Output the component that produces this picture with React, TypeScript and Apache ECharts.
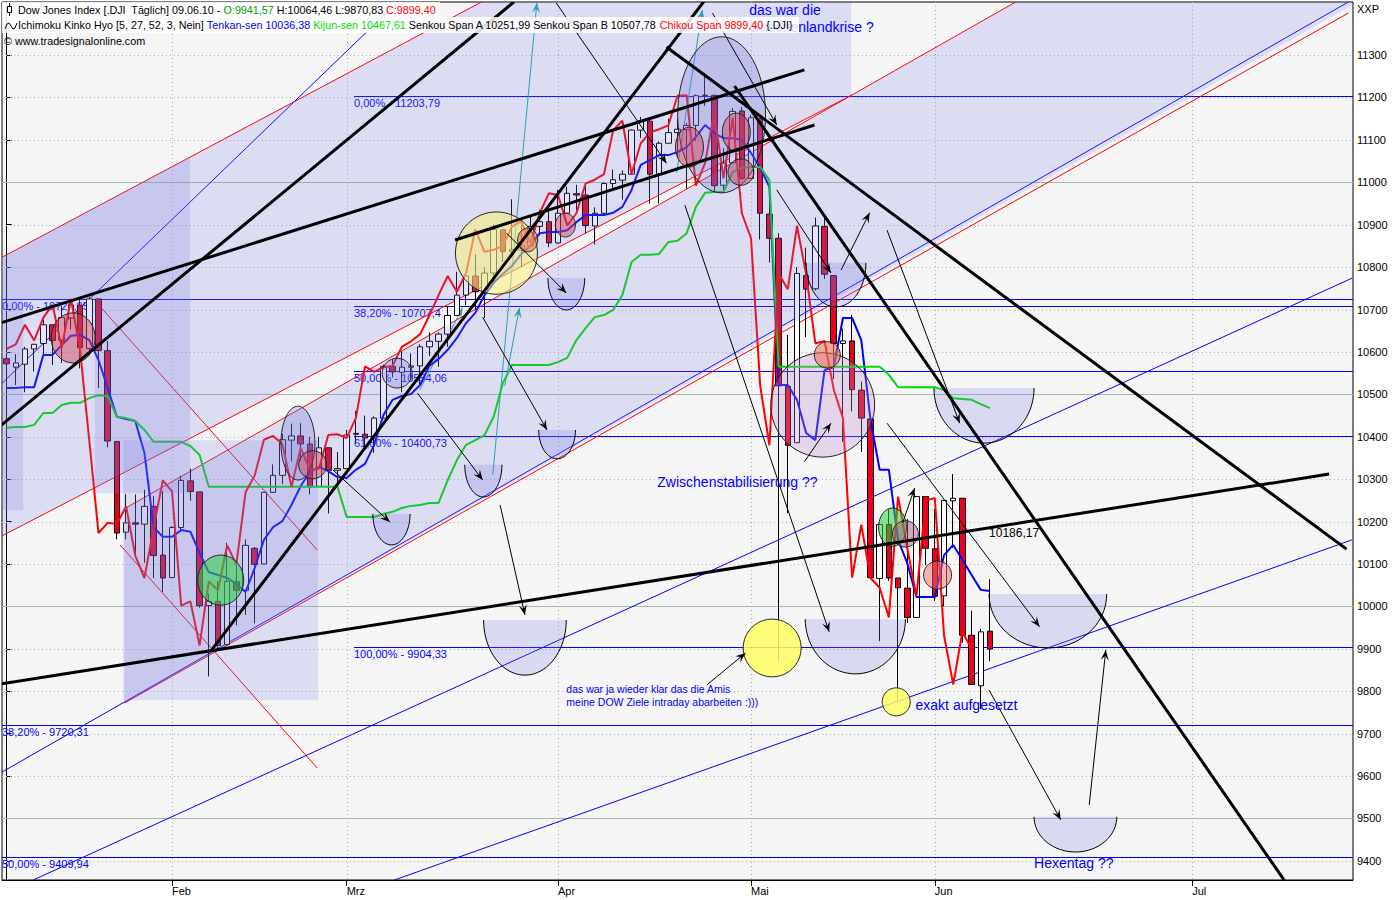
import React, { useEffect, useRef } from "react";
import * as echarts from "echarts";

type Pt = [number, number];

// Daily sessions of the Dow Jones Index: [date, open, close, low, high]
const CANDLES: [string, number, number, number, number][] = [
  ["2010-01-05", 10584, 10572, 10541, 10584],
  ["2010-01-06", 10564, 10574, 10522, 10595],
  ["2010-01-07", 10571, 10607, 10505, 10612],
  ["2010-01-08", 10607, 10618, 10554, 10619],
  ["2010-01-11", 10620, 10664, 10592, 10676],
  ["2010-01-12", 10664, 10627, 10569, 10664],
  ["2010-01-13", 10628, 10681, 10574, 10709],
  ["2010-01-14", 10680, 10711, 10653, 10723],
  ["2010-01-15", 10710, 10610, 10561, 10726],
  ["2010-01-19", 10608, 10725, 10594, 10730],
  ["2010-01-20", 10725, 10603, 10515, 10725],
  ["2010-01-21", 10603, 10390, 10375, 10626],
  ["2010-01-22", 10389, 10173, 10158, 10390],
  ["2010-01-25", 10175, 10197, 10158, 10265],
  ["2010-01-26", 10197, 10194, 10115, 10264],
  ["2010-01-27", 10194, 10236, 10103, 10275],
  ["2010-01-28", 10236, 10120, 10067, 10260],
  ["2010-01-29", 10121, 10067, 10034, 10272],
  ["2010-02-01", 10068, 10186, 10068, 10189],
  ["2010-02-02", 10186, 10297, 10179, 10308],
  ["2010-02-03", 10296, 10271, 10249, 10325],
  ["2010-02-04", 10270, 10002, 9997, 10270],
  ["2010-02-05", 10002, 10012, 9835, 10030],
  ["2010-02-08", 10012, 9908, 9902, 10060],
  ["2010-02-09", 9910, 10059, 9910, 10150],
  ["2010-02-10", 10058, 10038, 9955, 10100],
  ["2010-02-11", 10038, 10144, 9980, 10158],
  ["2010-02-12", 10137, 10099, 9960, 10140],
  ["2010-02-16", 10100, 10269, 10100, 10270],
  ["2010-02-17", 10269, 10309, 10268, 10335],
  ["2010-02-18", 10309, 10393, 10288, 10407],
  ["2010-02-19", 10392, 10402, 10342, 10431],
  ["2010-02-22", 10402, 10383, 10343, 10432],
  ["2010-02-23", 10383, 10282, 10264, 10400],
  ["2010-02-24", 10283, 10374, 10282, 10400],
  ["2010-02-25", 10374, 10321, 10219, 10374],
  ["2010-02-26", 10321, 10325, 10284, 10364],
  ["2010-03-01", 10325, 10404, 10325, 10416],
  ["2010-03-02", 10408, 10406, 10385, 10461],
  ["2010-03-03", 10406, 10397, 10370, 10450],
  ["2010-03-04", 10397, 10444, 10362, 10448],
  ["2010-03-05", 10444, 10566, 10444, 10570],
  ["2010-03-08", 10566, 10553, 10540, 10583],
  ["2010-03-09", 10552, 10564, 10505, 10601],
  ["2010-03-10", 10564, 10567, 10536, 10596],
  ["2010-03-11", 10567, 10612, 10520, 10618],
  ["2010-03-12", 10612, 10625, 10590, 10646],
  ["2010-03-15", 10625, 10642, 10565, 10646],
  ["2010-03-16", 10642, 10686, 10612, 10708],
  ["2010-03-17", 10686, 10734, 10686, 10789],
  ["2010-03-18", 10734, 10779, 10710, 10780],
  ["2010-03-19", 10779, 10742, 10700, 10830],
  ["2010-03-22", 10741, 10786, 10680, 10800],
  ["2010-03-23", 10786, 10889, 10760, 10900],
  ["2010-03-24", 10888, 10836, 10812, 10890],
  ["2010-03-25", 10837, 10841, 10830, 10960],
  ["2010-03-26", 10840, 10850, 10800, 10900],
  ["2010-03-29", 10850, 10896, 10850, 10919],
  ["2010-03-30", 10896, 10907, 10875, 10935],
  ["2010-03-31", 10907, 10857, 10847, 10935],
  ["2010-04-01", 10857, 10927, 10855, 10982],
  ["2010-04-05", 10927, 10974, 10926, 10990],
  ["2010-04-06", 10973, 10970, 10928, 10994],
  ["2010-04-07", 10970, 10898, 10880, 10993],
  ["2010-04-08", 10897, 10927, 10853, 10941],
  ["2010-04-09", 10927, 10997, 10925, 11000],
  ["2010-04-12", 10997, 11006, 10986, 11030],
  ["2010-04-13", 11005, 11019, 10959, 11028],
  ["2010-04-14", 11019, 11123, 11019, 11124],
  ["2010-04-15", 11123, 11145, 11104, 11154],
  ["2010-04-16", 11144, 11019, 10950, 11148],
  ["2010-04-19", 11018, 11092, 10950, 11096],
  ["2010-04-20", 11092, 11117, 11092, 11150],
  ["2010-04-21", 11117, 11125, 11060, 11150],
  ["2010-04-22", 11124, 11134, 10985, 11140],
  ["2010-04-23", 11134, 11204, 11098, 11207],
  ["2010-04-26", 11205, 11205, 11180, 11258],
  ["2010-04-27", 11205, 10992, 10979, 11206],
  ["2010-04-28", 10993, 11045, 10980, 11080],
  ["2010-04-29", 11046, 11167, 11046, 11175],
  ["2010-04-30", 11168, 11009, 11005, 11178],
  ["2010-05-03", 11009, 11152, 11008, 11158],
  ["2010-05-04", 11150, 10927, 10865, 11151],
  ["2010-05-05", 10925, 10868, 10811, 10961],
  ["2010-05-06", 10868, 10520, 9870, 10880],
  ["2010-05-07", 10519, 10380, 10220, 10640],
  ["2010-05-10", 10386, 10785, 10386, 10800],
  ["2010-05-11", 10780, 10748, 10635, 10846],
  ["2010-05-12", 10749, 10897, 10745, 10917],
  ["2010-05-13", 10896, 10783, 10772, 10920],
  ["2010-05-14", 10780, 10620, 10536, 10780],
  ["2010-05-17", 10620, 10626, 10388, 10655],
  ["2010-05-18", 10626, 10511, 10460, 10687],
  ["2010-05-19", 10510, 10444, 10364, 10530],
  ["2010-05-20", 10442, 10068, 10068, 10442],
  ["2010-05-21", 10066, 10193, 9918, 10196],
  ["2010-05-24", 10193, 10067, 10060, 10230],
  ["2010-05-25", 10067, 10044, 9775, 10067],
  ["2010-05-26", 10043, 9974, 9961, 10206],
  ["2010-05-27", 9974, 10259, 9974, 10260],
  ["2010-05-28", 10259, 10137, 10097, 10259],
  ["2010-06-01", 10136, 10024, 10013, 10230],
  ["2010-06-02", 10025, 10250, 10000, 10250],
  ["2010-06-03", 10249, 10255, 10138, 10312],
  ["2010-06-04", 10255, 9932, 9914, 10255],
  ["2010-06-07", 9932, 9816, 9816, 9990],
  ["2010-06-08", 9813, 9940, 9758, 9947],
  ["2010-06-09", 9941.57, 9899.4, 9870.83, 10064.46],
];

// Calendar days projected to the right of the last session
const FUTURE_DAYS: string[] = [
  "2010-06-10", "2010-06-11", "2010-06-12", "2010-06-13", "2010-06-14", "2010-06-15", "2010-06-16",
  "2010-06-17", "2010-06-18", "2010-06-19", "2010-06-20", "2010-06-21", "2010-06-22", "2010-06-23",
  "2010-06-24", "2010-06-25", "2010-06-26", "2010-06-27", "2010-06-28", "2010-06-29", "2010-06-30",
  "2010-07-01", "2010-07-02", "2010-07-03", "2010-07-04", "2010-07-05", "2010-07-06", "2010-07-07",
  "2010-07-08", "2010-07-09", "2010-07-10", "2010-07-11", "2010-07-12", "2010-07-13", "2010-07-14",
  "2010-07-15", "2010-07-16", "2010-07-17", "2010-07-18",
];

// Ichimoku Tenkan-sen (blue)
const TENKAN: number[] = [
  10515, 10515, 10517, 10517, 10593, 10593, 10616, 10638, 10640, 10628, 10581,
  10515, 10447, 10442, 10437, 10362, 10187, 10164, 10164, 10180, 10176,
  10126, 10081, 10074, 10067, 10053, 10034, 10091, 10157, 10187, 10201,
  10239, 10284, 10317, 10329, 10319, 10305, 10303, 10322, 10336, 10381,
  10451, 10487, 10496, 10501, 10522, 10567, 10583, 10605, 10633, 10668,
  10692, 10734, 10763, 10784, 10803, 10831, 10850, 10880, 10883, 10883,
  10887, 10906, 10923, 10923, 10923, 10928, 10942, 10982, 11041, 11052,
  11064, 11064, 11071, 11083, 11107, 11135, 11116, 11104, 11104, 11100,
  11069, 11034, 10989, 10522, 10522, 10487, 10409, 10392, 10557, 10564,
  10680, 10680, 10628, 10440, 10322, 10322, 10157, 10102, 10022, 10022,
  10022, 10121, 10145, 10110, 10074, 10039, 10036.38,
];

// Ichimoku Kijun-sen (green)
const KIJUN: number[] = [
  10421, 10423, 10423, 10428, 10456, 10456, 10475, 10480, 10480, 10491, 10498,
  10496, 10447, 10444, 10437, 10416, 10388, 10388, 10388, 10388, 10378,
  10357, 10282, 10282, 10282, 10282, 10282, 10282, 10282, 10282, 10282,
  10282, 10282, 10282, 10282, 10282, 10282, 10211, 10211, 10211, 10211,
  10218, 10223, 10232, 10237, 10239, 10244, 10244, 10298, 10345, 10381,
  10392, 10404, 10447, 10527, 10569, 10569, 10569, 10569, 10569, 10576,
  10586, 10628, 10656, 10682, 10687, 10699, 10734, 10812, 10829, 10829,
  10831, 10859, 10862, 10880, 10942, 10975, 10977, 10977, 11024, 11034,
  11036, 11036, 11005, 10565, 10565, 10565, 10565, 10565, 10565, 10565,
  10565, 10565, 10565, 10565, 10565, 10546, 10517, 10517, 10517, 10517,
  10517, 10510, 10491, 10489, 10487, 10477, 10467.61,
];

// Chikou-Span is the close plotted this many sessions back
const CHIKOU_SHIFT = 2;
const SENKOU_A = 10251.99;
const SENKOU_B = 10507.78;

const Y_MIN = 9355;
const Y_MAX = 11425;
const PRICE_TICKS = [9400, 9500, 9600, 9700, 9800, 9900, 10000, 10100, 10200, 10300, 10400, 10500, 10600, 10700, 10800, 10900, 11000, 11100, 11200, 11300];
const MAJOR_LEVELS = [9500, 10000, 10500, 11000];
const MONTH_NAMES: Record<string, string> = { "01": "Jan", "02": "Feb", "03": "Mrz", "04": "Apr", "05": "Mai", "06": "Jun", "07": "Jul" };

// Fibonacci retracements: [label, level]; each run starts at a session index
const FIB_RUN_A_START = 37.8;
const FIB_RUN_A: [string, number][] = [["0,00%", 11203.79], ["38,20%", 10707.4], ["50,00%", 10554.06], ["61,80%", 10400.73], ["100,00%", 9904.33]];
const FIB_RUN_B_START = -0.5;
const FIB_RUN_B: [string, number][] = [["0,00%", 10725.05], ["38,20%", 9720.31], ["50,00%", 9409.94]];

// Shaded regression channels and boxes, in (session index, price)
const SHADES: Pt[][] = [
  [[-0.7, 10821], [52.1, 11430], [91.9, 11430], [91.9, 11206], [-0.7, 10164]],
  [[12.8, 10230], [92.0, 11206], [110.2, 11430], [146.6, 11430], [146.6, 11420], [12.8, 9772]],
  [[-0.7, 10821], [19.96, 11060], [19.96, 10267], [9.6, 10267], [9.6, 10722], [1.8, 10722], [1.8, 10227], [-0.7, 10227]],
  [[12.7, 10392], [33.9, 10392], [33.9, 9779], [12.7, 9779]],
];

const RED_LINES: Pt[][] = [
  [[-0.7, 10821], [52.1, 11430]],
  [[-0.7, 10164], [92.0, 11206], [110.2, 11430]],
  [[12.8, 10230], [92.0, 11206]],
  [[12.8, 9772], [146.0, 11399]],
  [[9.85, 10715], [33.8, 10133]],
  [[12.35, 10145], [33.8, 9619]],
];

const BLUE_LINES: Pt[][] = [
  [[-0.7, 10522], [42.8, 11430]],
  [[-0.7, 9607], [146.4, 11430]],
  [[2.9, 9355], [146.4, 10774]],
  [[42.2, 9355], [146.4, 10157]],
];

const TREND_LINES: Pt[][] = [
  [[-0.7, 10425], [55.2, 11425]],
  [[22.3, 9897], [76.0, 11430]],
  [[-0.7, 9817], [143.9, 10312]],
  [[-0.7, 10668], [86.8, 11265]],
  [[48.8, 10864], [87.9, 11135]],
  [[71.8, 11319], [145.8, 10135]],
  [[79.2, 11227], [139.0, 9355]],
];

const BLACK_ARROWS: Pt[][] = [
  [[59.8, 11423], [71.8, 11045]],
  [[76.8, 11399], [83.8, 11135]],
  [[73.8, 10946], [89.5, 9940]],
  [[83.8, 10982], [89.7, 10786]],
  [[90.8, 10793], [93.9, 10928]],
  [[95.8, 10887], [103.7, 10432]],
  [[95.8, 10432], [112.4, 9952]],
  [[44.7, 10503], [51.8, 10298]],
  [[51.8, 10682], [58.8, 10416]],
  [[54.4, 10880], [60.9, 10739]],
  [[35.5, 10322], [41.7, 10199]],
  [[53.7, 10239], [56.4, 9980]],
  [[106.9, 9803], [114.7, 9497]],
  [[117.8, 9532], [119.6, 9897]],
  [[76.2, 9815], [80.4, 9890]],
  [[86.8, 10341], [89.7, 10432]],
  [[97.5, 10197], [98.8, 10279]],
];

const CYAN_ARROWS: Pt[][] = [
  [[44.95, 10510], [49.6, 10704]],
  [[52.9, 10310], [57.7, 11423]],
  [[54.2, 10520], [55.8, 10704]],
  [[72.9, 11022], [75.7, 11406]],
];

// Ellipse markers: [centre index, centre price, radius in sessions, radius in points, kind]
const MARKERS: [number, number, number, number, string][] = [
  [77.8, 11159, 4.78, 184, "lilac"],
  [88.8, 10475, 5.65, 123, "plum"],
  [53.3, 10833, 4.46, 97, "yellow"],
  [7.24, 10633, 2.39, 59, "rose"],
  [23.3, 10062, 2.5, 59, "green"],
  [31.7, 10385, 1.85, 87, "lilac"],
  [33.3, 10334, 1.52, 33, "rose"],
  [42.5, 10550, 1.63, 35, "lilac"],
  [56.7, 10864, 1.09, 28, "amber"],
  [60.8, 10899, 1.09, 28, "rose"],
  [74.3, 11083, 1.52, 47, "rose"],
  [79.4, 11118, 1.52, 45, "rose"],
  [79.9, 11024, 1.41, 31, "rose"],
  [89.3, 10593, 1.41, 31, "amber"],
  [96.4, 10187, 1.52, 45, "green"],
  [97.8, 10171, 1.41, 31, "mauve"],
  [101.3, 10074, 1.52, 33, "salmon"],
  [83.3, 9902, 3.15, 68, "lemon"],
  [96.8, 9775, 1.52, 33, "lemon"],
];

// Half-ellipse target bowls: [left index, right index, rim price, bottom price]
const BOWLS: [number, number, number, number][] = [
  [51.9, 60.9, 9968, 9838],
  [86.9, 97.8, 9970, 9841],
  [100.9, 111.8, 10515, 10385],
  [106.9, 119.7, 10029, 9902],
  [111.8, 120.8, 9504, 9421],
  [58.9, 62.9, 10774, 10699],
  [57.9, 61.9, 10416, 10348],
  [49.85, 53.9, 10334, 10258],
  [39.85, 43.9, 10218, 10145],
  [87.0, 93.5, 10810, 10706],
];

// Chart notes: [anchor index, anchor price, text, kind]
const NOTES: [number, number, string, string][] = [
  [80.8, 11406, "das war die", "big"],
  [80.8, 11366, "Griechenlandkrise ?", "big"],
  [70.8, 10293, "Zwischenstabilisierung ??", "big"],
  [98.9, 9768, "exakt aufgesetzt", "big"],
  [111.8, 9395, "Hexentag ??", "big"],
  [106.9, 10173, "10186,17", "value"],
  [60.9, 9805, "das war ja wieder klar das die Amis", "small"],
  [60.9, 9775, "meine DOW Ziele intraday abarbeiten :)))", "small"],
];

const FONT = '"Liberation Sans", Arial, sans-serif';
const HEADER_SIZE = 10.75;

const MARKER_FILL: Record<string, string> = {
  rose: "rgba(210,60,85,0.45)",
  green: "rgba(40,210,60,0.55)",
  lilac: "rgba(120,120,220,0.28)",
  yellow: "rgba(250,240,120,0.55)",
  amber: "rgba(235,110,80,0.55)",
  plum: "rgba(190,140,210,0.3)",
  mauve: "rgba(160,80,120,0.45)",
  salmon: "rgba(240,110,110,0.5)",
  lemon: "rgba(255,255,100,0.85)",
};

const NOTE_STYLE: Record<string, { size: number; color: string }> = {
  big: { size: 14, color: "#0000ff" },
  small: { size: 10.5, color: "#0000ff" },
  value: { size: 12, color: "#000000" },
};

const fmt = (v: number) => v.toFixed(2).replace(".", ",");
const fibText = (pct: string, v: number) => `${pct} - ${String(v).replace(".", ",")}`;

function arrowHead(x1: number, y1: number, x2: number, y2: number, len = 10, half = 4): number[][] {
  const dx = x2 - x1;
  const dy = y2 - y1;
  const d = Math.hypot(dx, dy) || 1;
  const ux = dx / d;
  const uy = dy / d;
  const bx = x2 - ux * len;
  const by = y2 - uy * len;
  return [
    [x2, y2],
    [bx - uy * half, by + ux * half],
    [x2 - ux * len * 0.6, y2 - uy * len * 0.6],
    [bx + uy * half, by - ux * half],
  ];
}

function overlay(z: number, count: number, render: (i: number, api: any, params: any) => any) {
  return {
    type: "custom",
    xAxisIndex: 1,
    yAxisIndex: 0,
    z,
    silent: true,
    clip: true,
    data: Array.from({ length: count }, () => [0, Y_MIN + 1]),
    renderItem: (params: any, api: any) => render(params.dataIndex, api, params),
  };
}

function polylines(z: number, lines: Pt[][], stroke: string, width: number, arrows: boolean) {
  return overlay(z, lines.length, (i, api) => {
    const pts = lines[i].map((p) => api.coord(p));
    const children: any[] = [
      { type: "polyline", shape: { points: pts }, style: { stroke, lineWidth: width, fill: null } },
    ];
    if (arrows) {
      const a = pts[pts.length - 2];
      const b = pts[pts.length - 1];
      children.push({ type: "polygon", shape: { points: arrowHead(a[0], a[1], b[0], b[1]) }, style: { fill: stroke } });
    }
    return { type: "group", children };
  });
}

function buildOption() {
  const categories = [...CANDLES.map((c) => c[0]), ...FUTURE_DAYS];
  const monthStarts = categories
    .map((d, i) => (i > 0 && d.slice(5, 7) !== categories[i - 1].slice(5, 7) ? i : -1))
    .filter((i) => i >= 0);
  const monthSet = new Set(monthStarts);
  const last = CANDLES[CANDLES.length - 1];
  const chikou = CANDLES.slice(CHIKOU_SHIFT).map((c) => c[2]);

  const fibItems = [
    ...FIB_RUN_A.map(([pct, v]) => ({ start: FIB_RUN_A_START, v, label: fibText(pct, v) })),
    ...FIB_RUN_B.map(([pct, v]) => ({ start: FIB_RUN_B_START, v, label: fibText(pct, v) })),
  ];

  const series: any[] = [
    // horizontal price grid
    overlay(1, PRICE_TICKS.length, (i, api, params) => {
      const cs = params.coordSys;
      const v = PRICE_TICKS[i];
      const y = Math.round(api.coord([0, v])[1]) + 0.5;
      const major = MAJOR_LEVELS.includes(v);
      return {
        type: "line",
        shape: { x1: cs.x, y1: y, x2: cs.x + cs.width, y2: y },
        style: { stroke: major ? "#a6bba6" : "#b0b0b0", lineWidth: 1, lineDash: major ? null : [1, 3] },
      };
    }),
    // month grid
    overlay(1, monthStarts.length, (i, api, params) => {
      const cs = params.coordSys;
      const x = Math.round(api.coord([monthStarts[i], Y_MIN])[0]) + 0.5;
      return {
        type: "line",
        shape: { x1: x, y1: cs.y, x2: x, y2: cs.y + cs.height },
        style: { stroke: "#b0b0b0", lineWidth: 1, lineDash: [1, 3] },
      };
    }),
    // Fibonacci levels
    overlay(2, fibItems.length, (i, api, params) => {
      const cs = params.coordSys;
      const f = fibItems[i];
      const p = api.coord([f.start, f.v]);
      const x0 = Math.max(cs.x, p[0]);
      const y = Math.round(p[1]) + 0.5;
      return {
        type: "group",
        children: [
          { type: "line", shape: { x1: x0, y1: y, x2: cs.x + cs.width, y2: y }, style: { stroke: "#0000ff", lineWidth: 1 } },
          {
            type: "text",
            x: x0,
            y: y + 1,
            style: {
              text: f.label, fill: "#0000ff", fontSize: 11, fontFamily: FONT,
              align: "left", verticalAlign: "top", textAlign: "left", textVerticalAlign: "top",
            },
          },
        ],
      };
    }),
    polylines(3, RED_LINES, "#ff0000", 1, false),
    polylines(3, BLUE_LINES, "#0000ff", 1, false),
    polylines(3, CYAN_ARROWS, "#1fa8a8", 1, true),
    {
      type: "candlestick",
      xAxisIndex: 0,
      yAxisIndex: 0,
      z: 4,
      barWidth: 6,
      data: CANDLES.map((c) => [c[1], c[2], c[3], c[4]]),
      itemStyle: { color: "#ffffff", color0: "#ea0020", borderColor: "#000000", borderColor0: "#000000", borderWidth: 1 },
    },
    {
      type: "line", name: "Tenkan-sen", xAxisIndex: 0, yAxisIndex: 0, z: 5, data: TENKAN,
      showSymbol: false, symbol: "none", lineStyle: { color: "#0000ff", width: 2 },
    },
    {
      type: "line", name: "Kijun-sen", xAxisIndex: 0, yAxisIndex: 0, z: 5, data: KIJUN,
      showSymbol: false, symbol: "none", lineStyle: { color: "#00dd00", width: 2 },
    },
    {
      type: "line", name: "Chikou Span", xAxisIndex: 0, yAxisIndex: 0, z: 5, data: chikou,
      showSymbol: false, symbol: "none", lineStyle: { color: "#ff0000", width: 2 },
    },
    // translucent channel shading
    overlay(6, SHADES.length, (i, api) => ({
      type: "polygon",
      shape: { points: SHADES[i].map((p) => api.coord(p)) },
      style: { fill: "rgba(120,120,230,0.2)" },
    })),
    // target bowls
    overlay(7, BOWLS.length, (i, api) => {
      const [l, r, rim, bottom] = BOWLS[i];
      const pl = api.coord([l, rim]);
      const pr = api.coord([r, rim]);
      const pb = api.coord([(l + r) / 2, bottom]);
      const cx = (pl[0] + pr[0]) / 2;
      const rx = (pr[0] - pl[0]) / 2;
      const ry = pb[1] - pl[1];
      const pts: number[][] = [];
      for (let k = 0; k <= 40; k++) {
        const t = (k / 40) * Math.PI;
        pts.push([cx + rx * Math.cos(t), pl[1] + ry * Math.sin(t)]);
      }
      return {
        type: "group",
        children: [
          { type: "polygon", shape: { points: pts }, style: { fill: "rgba(120,120,230,0.22)" } },
          { type: "polyline", shape: { points: pts }, style: { stroke: "#000", lineWidth: 1, fill: null } },
        ],
      };
    }),
    // ellipse markers
    overlay(7, MARKERS.length, (i, api) => {
      const [ci, cp, ri, rp, kind] = MARKERS[i];
      const c = api.coord([ci, cp]);
      const s = api.size([ri, rp]);
      const pts: number[][] = [];
      for (let k = 0; k < 64; k++) {
        const t = (k / 64) * Math.PI * 2;
        pts.push([c[0] + s[0] * Math.cos(t), c[1] + s[1] * Math.sin(t)]);
      }
      return { type: "polygon", shape: { points: pts }, style: { fill: MARKER_FILL[kind], stroke: "#222", lineWidth: 1 } };
    }),
    polylines(8, BLACK_ARROWS, "#000000", 1, true),
    polylines(8, TREND_LINES, "#000000", 3, false),
    // notes
    overlay(9, NOTES.length, (i, api) => {
      const [ni, np, text, kind] = NOTES[i];
      const p = api.coord([ni, np]);
      const st = NOTE_STYLE[kind];
      return {
        type: "text",
        x: p[0],
        y: p[1],
        style: {
          text, fill: st.color, fontSize: st.size, fontFamily: FONT,
          align: "left", verticalAlign: "middle", textAlign: "left", textVerticalAlign: "middle",
        },
      };
    }),
  ];

  const rich = (fill: string) => ({ fill, fontSize: HEADER_SIZE, fontFamily: FONT });

  return {
    animation: false,
    backgroundColor: "#ffffff",
    grid: {
      left: 2, right: 47, top: 2, bottom: 20,
      show: true, backgroundColor: "#f5f5f5", borderColor: "#000000", borderWidth: 1,
    },
    xAxis: [
      {
        type: "category",
        data: categories,
        boundaryGap: true,
        axisLine: { show: true, lineStyle: { color: "#000", width: 1 } },
        axisTick: {
          show: true, alignWithLabel: true, length: 6,
          interval: (i: number) => monthSet.has(i), lineStyle: { color: "#000" },
        },
        axisLabel: {
          interval: (i: number) => monthSet.has(i),
          formatter: (v: string) => MONTH_NAMES[v.slice(5, 7)] || "",
          align: "left", color: "#000", fontSize: 11, fontFamily: FONT, margin: 5,
        },
        splitLine: { show: false },
      },
      { type: "value", min: -0.5, max: 146.5, show: false },
    ],
    yAxis: [
      {
        type: "value",
        position: "right",
        min: Y_MIN,
        max: Y_MAX,
        axisLine: { show: true, lineStyle: { color: "#000" } },
        axisTick: { show: true, customValues: PRICE_TICKS, length: 5, lineStyle: { color: "#000" } },
        axisLabel: {
          customValues: PRICE_TICKS,
          formatter: (v: number) => String(v),
          color: "#000", fontSize: 11, fontFamily: FONT, margin: 4,
        },
        splitLine: { show: false },
      },
    ],
    graphic: [
      { type: "rect", z: 100, shape: { x: 2, y: 2, width: 438, height: 15 }, style: { fill: "rgba(255,255,255,0.85)" } },
      { type: "rect", z: 100, shape: { x: 2, y: 17, width: 797, height: 16 }, style: { fill: "rgba(255,255,255,0.85)" } },
      { type: "line", z: 101, shape: { x1: 9.5, y1: 3, x2: 9.5, y2: 16 }, style: { stroke: "#000", lineWidth: 1 } },
      { type: "rect", z: 102, shape: { x: 7.5, y: 6.5, width: 4, height: 6 }, style: { fill: "#fff", stroke: "#000", lineWidth: 1 } },
      {
        type: "polyline", z: 101,
        shape: { points: [[5, 29], [7, 24], [9, 23], [11, 26], [13, 29], [15, 28], [17, 23]] },
        style: { stroke: "#000", lineWidth: 1, fill: null },
      },
      {
        type: "text", z: 103, left: 18, top: 4,
        style: {
          text:
            `{k|Dow Jones Index [.DJI  Täglich] 09.06.10 - }{g|O:${fmt(last[1])}}` +
            `{k| H:${fmt(last[4])} L:${fmt(last[3])} }{r|C:${fmt(last[2])}}`,
          fontSize: HEADER_SIZE, fontFamily: FONT, fill: "#000",
          rich: { k: rich("#000000"), g: rich("#00a000"), r: rich("#ff0000") },
        },
      },
      {
        type: "text", z: 103, left: 18, top: 19,
        style: {
          text:
            `{k|Ichimoku Kinko Hyo [5, 27, 52, 3, Nein] }{b|Tenkan-sen ${fmt(TENKAN[TENKAN.length - 1])} }` +
            `{g|Kijun-sen ${fmt(KIJUN[KIJUN.length - 1])} }{k|Senkou Span A ${fmt(SENKOU_A)} Senkou Span B ${fmt(SENKOU_B)} }` +
            `{r|Chikou Span ${fmt(chikou[chikou.length - 1])} }{.DJI}`,
          fontSize: HEADER_SIZE, fontFamily: FONT, fill: "#000",
          rich: { k: rich("#000000"), b: rich("#0000ff"), g: rich("#00dd00"), r: rich("#ff0000") },
        },
      },
      {
        type: "text", z: 103, left: 4, top: 35,
        style: { text: "© www.tradesignalonline.com", fontSize: HEADER_SIZE, fontFamily: FONT, fill: "#000" },
      },
      {
        type: "text", z: 103, left: 1357, top: 3,
        style: { text: "XXP", fontSize: 11, fontFamily: FONT, fill: "#000" },
      },
    ],
    series,
  };
}

export default function App() {
  const ref = useRef<HTMLDivElement>(null);
  useEffect(() => {
    if (!ref.current) return;
    const chart = echarts.init(ref.current, null, { renderer: "svg" });
    chart.setOption(buildOption() as any);
    return () => chart.dispose();
  }, []);
  return (
    <div
      ref={ref}
      style={{ position: "fixed", left: 0, top: 0, width: 1400, height: 900, background: "#ffffff" }}
    />
  );
}
